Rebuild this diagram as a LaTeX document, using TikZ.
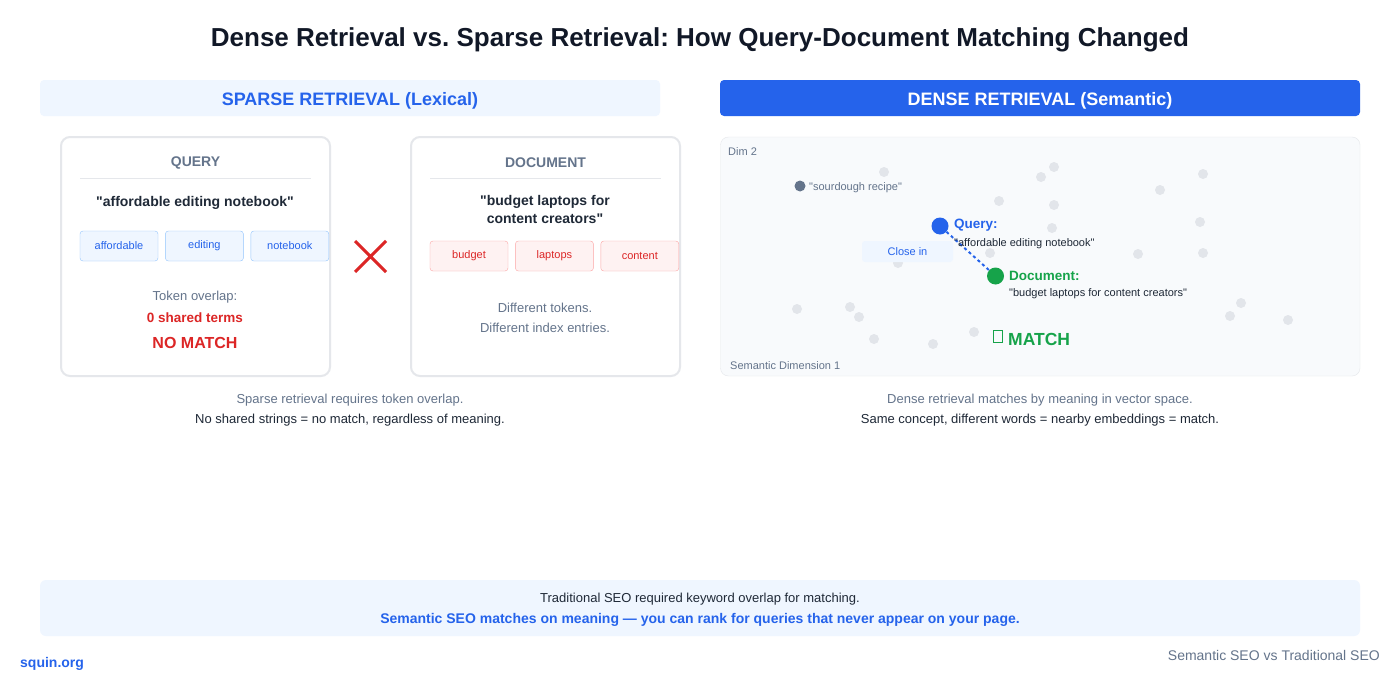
\documentclass[tikz,border=0pt]{standalone}
\usepackage{fontspec}
\setmainfont{Liberation Sans}
\usetikzlibrary{positioning}

\definecolor{inkdark}{HTML}{111827}
\definecolor{inktext}{HTML}{1F2937}
\definecolor{inkgray}{HTML}{64748B}
\definecolor{brandblue}{HTML}{2563EB}
\definecolor{paleblue}{HTML}{EFF6FF}
\definecolor{lineblue}{HTML}{93C5FD}
\definecolor{brandred}{HTML}{DC2626}
\definecolor{palered}{HTML}{FEF2F2}
\definecolor{linered}{HTML}{FCA5A5}
\definecolor{brandgreen}{HTML}{16A34A}
\definecolor{cardline}{HTML}{E5E7EB}
\definecolor{plotbg}{HTML}{F8FAFC}
\definecolor{dotgray}{HTML}{E2E5EA}

\newcommand{\fs}[1]{\fontsize{#1}{#1}\selectfont}
\newcommand{\dq}{\textquotedbl}
\frenchspacing

\begin{document}
\begin{tikzpicture}[x=1pt,y=-1pt,
    txt/.style={inner sep=0pt,yshift=-1.5pt},
    lbl/.style={txt,text=inkgray,font=\fs{13}},
    tokq/.style={draw=lineblue,fill=paleblue,rounded corners=3pt,
        minimum width=78pt,minimum height=30pt,inner sep=0pt,
        text=brandblue,font=\fs{11}},
    tokd/.style={draw=linered,fill=palered,rounded corners=3pt,
        minimum width=78pt,minimum height=30pt,inner sep=0pt,
        text=brandred,font=\fs{11}},
    card/.style={draw=cardline,line width=2pt,fill=white,rounded corners=9pt},
    dot/.style={circle,fill=dotgray,minimum size=10pt,inner sep=0pt}
]

\useasboundingbox (0,0) rectangle (1400,680);
\fill[white] (0,0) rectangle (1400,680);

% Title
\node[txt,text=inkdark,font=\bfseries\fs{26}] (title) at (700,38)
    {Dense Retrieval vs. Sparse Retrieval: How Query-Document Matching Changed};

% Headers
\fill[paleblue,rounded corners=4pt] (40,80) rectangle (660,116);
\node[txt,text=brandblue,font=\bfseries\fs{18}] (sparsehead) at (350,99)
    {SPARSE RETRIEVAL (Lexical)};
\fill[brandblue,rounded corners=4pt] (720,80) rectangle (1360,116);
\node[txt,text=white,font=\bfseries\fs{18}] (densehead) at (1040,99)
    {DENSE RETRIEVAL (Semantic)};

% Query card
\draw[card] (61,137) rectangle (330,376);
\node[lbl,font=\bfseries\fs{14}] (qhead) at (195.5,161) {QUERY};
\draw[cardline] (80,178.5) -- (311,178.5);
\node[txt,text=inktext,font=\bfseries\fs{14}] (qtext) at (195,201)
    {\dq affordable editing notebook\dq};
\node[tokq] (qtok1) at (119,246) {affordable};
\node[tokq,right=7pt of qtok1] (qtok2) {editing};
\node[tokq,right=7pt of qtok2] (qtok3) {notebook};
\node[lbl] (overlap) at (195,296) {Token overlap:};
\node[lbl,text=brandred,font=\bfseries\fs{13.5}] (shared) at (195,316) {0 shared terms};
\node[lbl,text=brandred,font=\bfseries\fs{16}] (nomatch) at (195,341) {NO MATCH};

% Cross
\draw[brandred,line width=3pt] (355,241) -- (386,272) (386,241) -- (355,272);

% Document card
\draw[card] (411,137) rectangle (680,376);
\node[lbl,font=\bfseries\fs{14}] (dhead) at (545.5,161) {DOCUMENT};
\draw[cardline] (430,178.5) -- (661,178.5);
\node[txt,text=inktext,font=\bfseries\fs{14},align=center] (dtext) at (545,208)
    {\dq budget laptops for\\[4pt]content creators\dq};
\node[tokd] (dtok1) at (469,256) {budget};
\node[tokd,right=7pt of dtok1] (dtok2) {laptops};
\node[tokd,right=7pt of dtok2] (dtok3) {content};
\node[lbl] (difftok) at (545,306) {Different tokens.};
\node[lbl] (diffidx) at (545,326) {Different index entries.};

% Sparse caption
\node[lbl] (scap1) at (350,399) {Sparse retrieval requires token overlap.};
\node[lbl,text=inktext] (scap2) at (350,419) {No shared strings = no match, regardless of meaning.};

% Vector space
\draw[cardline,fill=plotbg,rounded corners=8pt] (720.5,137) rectangle (1360,376);
\node[lbl,font=\fs{11},anchor=west] (dim2) at (728,150) {Dim 2};
\node[lbl,font=\fs{11},anchor=west] (dim1) at (730,364) {Semantic Dimension 1};

\foreach \px/\py [count=\i] in {884/172, 1054/167, 1041/177, 1203/174, 1160/190,
    999/201, 1054/205, 1052/228, 1200/222, 990/253, 1138/254, 1203/253,
    898/263, 797/309, 850/307, 859/317, 1241/303, 1230/316, 1288/320,
    874/339, 933/344, 974/332}{
    \node[dot] (g\i) at (\px,\py) {};
}

\node[circle,fill=inkgray,minimum size=11pt,inner sep=0pt] (sour) at (800,186) {};
\node[lbl,font=\fs{11},anchor=west] (sourlbl) at (809,186) {\dq sourdough recipe\dq};

\node[fill=paleblue,rounded corners=3pt,minimum width=91pt,minimum height=21pt,
    inner sep=0pt,text=brandblue,font=\fs{11}] (closein) at (907.5,251.5) {Close in};

\node[circle,fill=brandblue,minimum size=17pt,inner sep=0pt] (qdot) at (940,226) {};
\node[circle,fill=brandgreen,minimum size=17pt,inner sep=0pt] (ddot) at (995.5,276) {};
\draw[brandblue,line width=2pt,dash pattern=on 3pt off 3pt] (qdot) -- (ddot);

\node[lbl,text=brandblue,font=\bfseries\fs{13.5},anchor=west] (qlbl) at (954,224) {Query:};
\node[lbl,text=inktext,font=\fs{11},anchor=west] (qvec) at (954,242) {\dq affordable editing notebook\dq};
\node[lbl,text=brandgreen,font=\bfseries\fs{13.5},anchor=west] (dlbl) at (1009,274) {Document:};
\node[lbl,text=inktext,font=\fs{11},anchor=west] (dvec) at (1009,292) {\dq budget laptops for content creators\dq};

\node[draw=brandgreen,line width=1pt,minimum width=9pt,minimum height=12pt,inner sep=0pt] (tofu) at (997.5,336.5) {};
\node[lbl,text=brandgreen,font=\bfseries\fs{17.5},anchor=west] (match) at (1008,337.5) {MATCH};

% Dense caption
\node[lbl] (dcap1) at (1040,399) {Dense retrieval matches by meaning in vector space.};
\node[lbl,text=inktext] (dcap2) at (1040,419) {Same concept, different words = nearby embeddings = match.};

% Bottom note
\fill[paleblue,rounded corners=6pt] (40,580) rectangle (1360,636);
\node[lbl,text=inktext] (note1) at (700,598) {Traditional SEO required keyword overlap for matching.};
\node[lbl,text=brandblue,font=\bfseries\fs{14}] (note2) at (700,618)
    {Semantic SEO matches on meaning — you can rank for queries that never appear on your page.};

% Footer
\node[lbl,text=brandblue,font=\bfseries\fs{14},anchor=west] (site) at (20,662) {squin.org};
\node[lbl,font=\fs{14},anchor=east] (tag) at (1380,654) {Semantic SEO vs Traditional SEO};

\end{tikzpicture}
\end{document}
